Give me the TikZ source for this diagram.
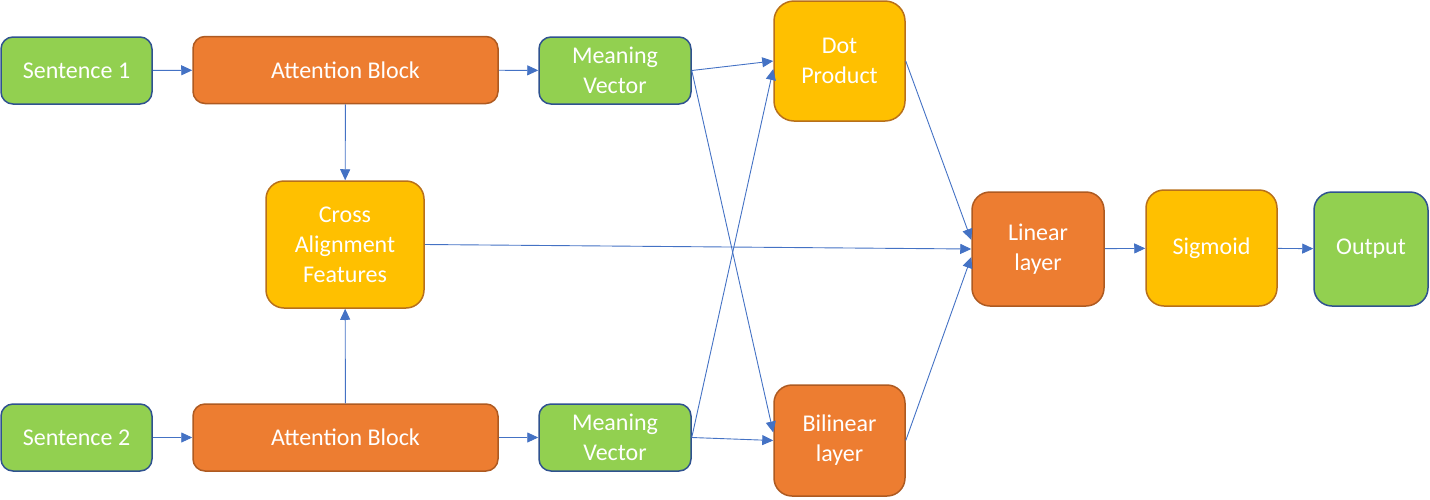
\documentclass[tikz,border=0pt]{standalone}
\usepackage{fontspec}
\setmainfont{Carlito}
\usetikzlibrary{arrows.meta}
\definecolor{gfill}{HTML}{92D050}
\definecolor{gdraw}{HTML}{2F528F}
\definecolor{ofill}{HTML}{ED7D31}
\definecolor{odraw}{HTML}{AE5A21}
\definecolor{yfill}{HTML}{FFC000}
\definecolor{ydraw}{HTML}{B8701A}
\definecolor{arr}{HTML}{4472C4}
\tikzset{
  box/.style={rectangle, rounded corners=12pt, line width=1.5pt, text=white,
    font=\fontsize{24}{30}\selectfont, align=center, inner sep=0pt},
  gbox/.style={box, fill=gfill, draw=gdraw},
  obox/.style={box, fill=ofill, draw=odraw},
  ybox/.style={box, fill=yfill, draw=ydraw},
  conn/.style={draw=arr, line width=0.9pt, -{Triangle[length=11pt,width=10pt]}},
}
\begin{document}
\begin{tikzpicture}[x=1pt,y=-1pt]
\useasboundingbox (0,0) rectangle (1430,499);
\node[gbox, minimum width=151pt, minimum height=67pt] (s1) at (76.5,70.5) {Sentence 1};
\node[obox, minimum width=305pt, minimum height=67pt] (a1) at (345.5,70) {Attention Block};
\node[gbox, minimum width=152pt, minimum height=67pt] (m1) at (615,70.5) {Meaning\\Vector};
\node[ybox, rounded corners=20pt, minimum width=131pt, minimum height=120pt] (dot) at (839.5,61) {Dot\\Product};
\node[ybox, rounded corners=18pt, minimum width=158pt, minimum height=127pt] (cr) at (345,244.5) {Cross\\Alignment\\Features};
\node[obox, rounded corners=18pt, minimum width=132pt, minimum height=114pt] (lin) at (1038,249) {Linear\\layer};
\node[ybox, rounded corners=18pt, minimum width=131pt, minimum height=116pt] (sig) at (1211.5,248) {Sigmoid};
\node[gbox, rounded corners=18pt, minimum width=114pt, minimum height=114pt] (out) at (1371,249) {Output};
\node[gbox, minimum width=151pt, minimum height=67pt] (s2) at (76.5,437.5) {Sentence 2};
\node[obox, minimum width=305pt, minimum height=67pt] (a2) at (345.5,437.5) {Attention Block};
\node[gbox, minimum width=152pt, minimum height=67pt] (m2) at (615,437.5) {Meaning\\Vector};
\node[obox, rounded corners=18pt, minimum width=131pt, minimum height=111pt] (bil) at (839.5,440.5) {Bilinear\\layer};

\draw[conn] (s1) -- (a1);
\draw[conn] (a1) -- (m1);
\draw[conn] (s2) -- (a2);
\draw[conn] (a2) -- (m2);
\draw[conn] (a1) -- (cr);
\draw[conn] (a2) -- (cr);
\draw[conn] (m1.east) -- (dot.west);
\draw[conn] (m2.east) -- ([yshift=-8pt]dot.west);
\draw[conn] (m1.east) -- ([yshift=8pt]bil.west);
\draw[conn] (m2.east) -- (bil.west);
\draw[conn] (cr.east) -- (lin.west);
\draw[conn] (dot.east) -- ([yshift=9pt]lin.west);
\draw[conn] (bil.east) -- ([yshift=-8pt]lin.west);
\draw[conn] (lin) -- (sig);
\draw[conn] (sig) -- (out);
\end{tikzpicture}
\end{document}
